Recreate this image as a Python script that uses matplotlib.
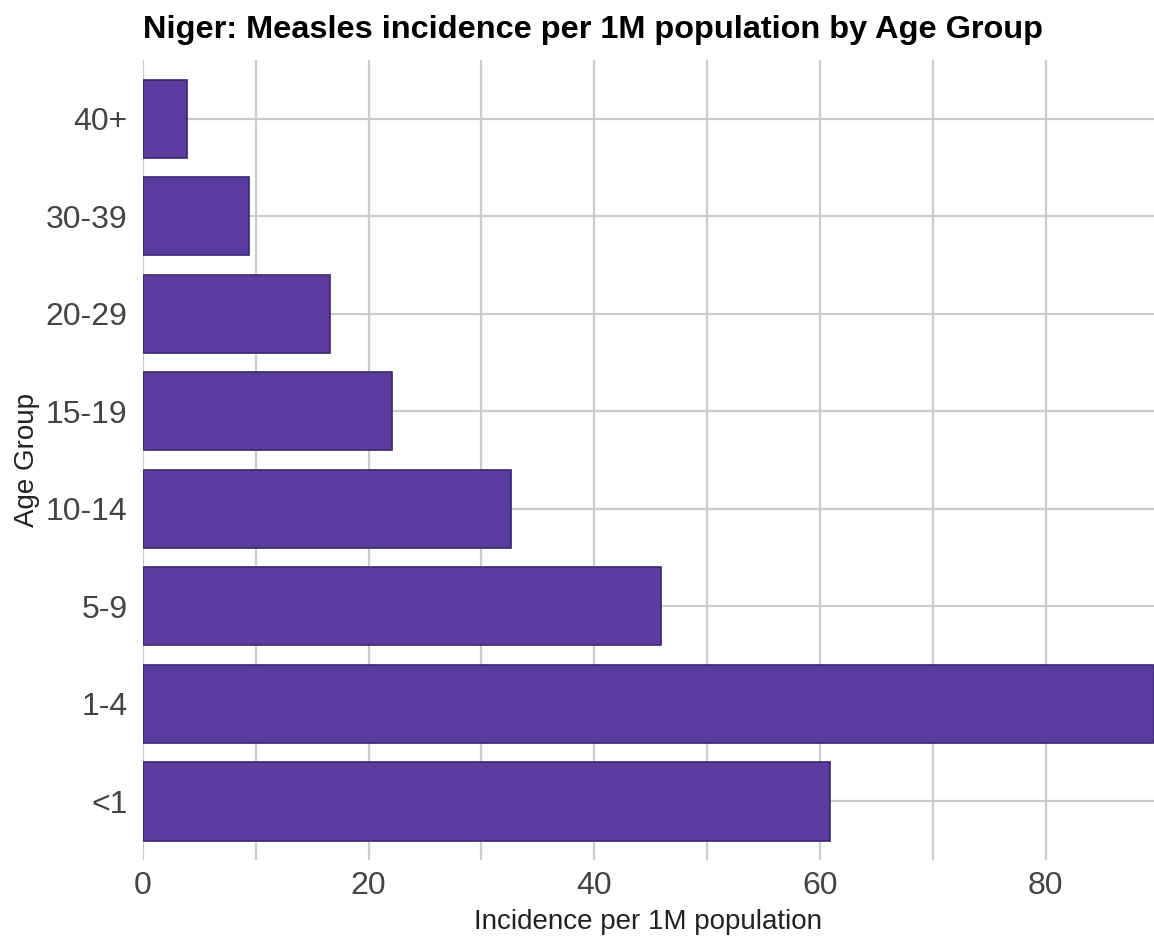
import matplotlib
matplotlib.use("Agg")
import matplotlib.pyplot as plt
from matplotlib.ticker import MultipleLocator

plt.rcParams['font.family'] = ['Liberation Sans', 'DejaVu Sans']

age_groups = ["<1", "1-4", "5-9", "10-14", "15-19", "20-29", "30-39", "40+"]
incidence = [60.9, 89.6, 45.9, 32.6, 22.1, 16.6, 9.4, 3.9]

BAR_COLOR = "#5a3d9e"
EDGE_COLOR = "#3b2670"
GRID_COLOR = "#cccccc"


def plot_incidence(groups, values):
    """Horizontal bar chart of incidence by age group."""
    fig = plt.figure(figsize=(11.54, 9.39), dpi=100)
    ax = fig.add_axes([0.1239, 0.0841, 0.8761, 0.852])

    pos = list(range(len(groups)))
    ax.barh(pos, values, height=0.8, color=BAR_COLOR, edgecolor=EDGE_COLOR,
            linewidth=1.2, zorder=3)

    ax.set_xlim(0, 89.6)
    ax.set_ylim(-0.6, len(groups) - 0.4)
    ax.set_yticks(pos)
    ax.set_yticklabels(groups)
    ax.xaxis.set_major_locator(MultipleLocator(20))
    ax.xaxis.set_minor_locator(MultipleLocator(10))

    ax.grid(True, which="both", axis="x", color=GRID_COLOR, linewidth=1.6, zorder=0)
    ax.grid(True, which="major", axis="y", color=GRID_COLOR, linewidth=1.6, zorder=0)

    for s in ax.spines.values():
        s.set_visible(False)
    ax.tick_params(axis="both", which="both", length=0, labelsize=23,
                   labelcolor="#444444")
    ax.tick_params(axis="x", pad=8)
    ax.tick_params(axis="y", pad=11)

    ax.set_xlabel("Incidence per 1M population", fontsize=20, color="#222222",
                  labelpad=6)
    ax.set_ylabel("Age Group", fontsize=20, color="#222222", labelpad=4)
    fig.text(143 / 1154, 0.968, "Niger: Measles incidence per 1M population by Age Group",
             ha="left", va="center", fontsize=23.4, fontweight="bold")

    fig.savefig("out.png", dpi=100)


if __name__ == "__main__":
    plot_incidence(age_groups, incidence)
